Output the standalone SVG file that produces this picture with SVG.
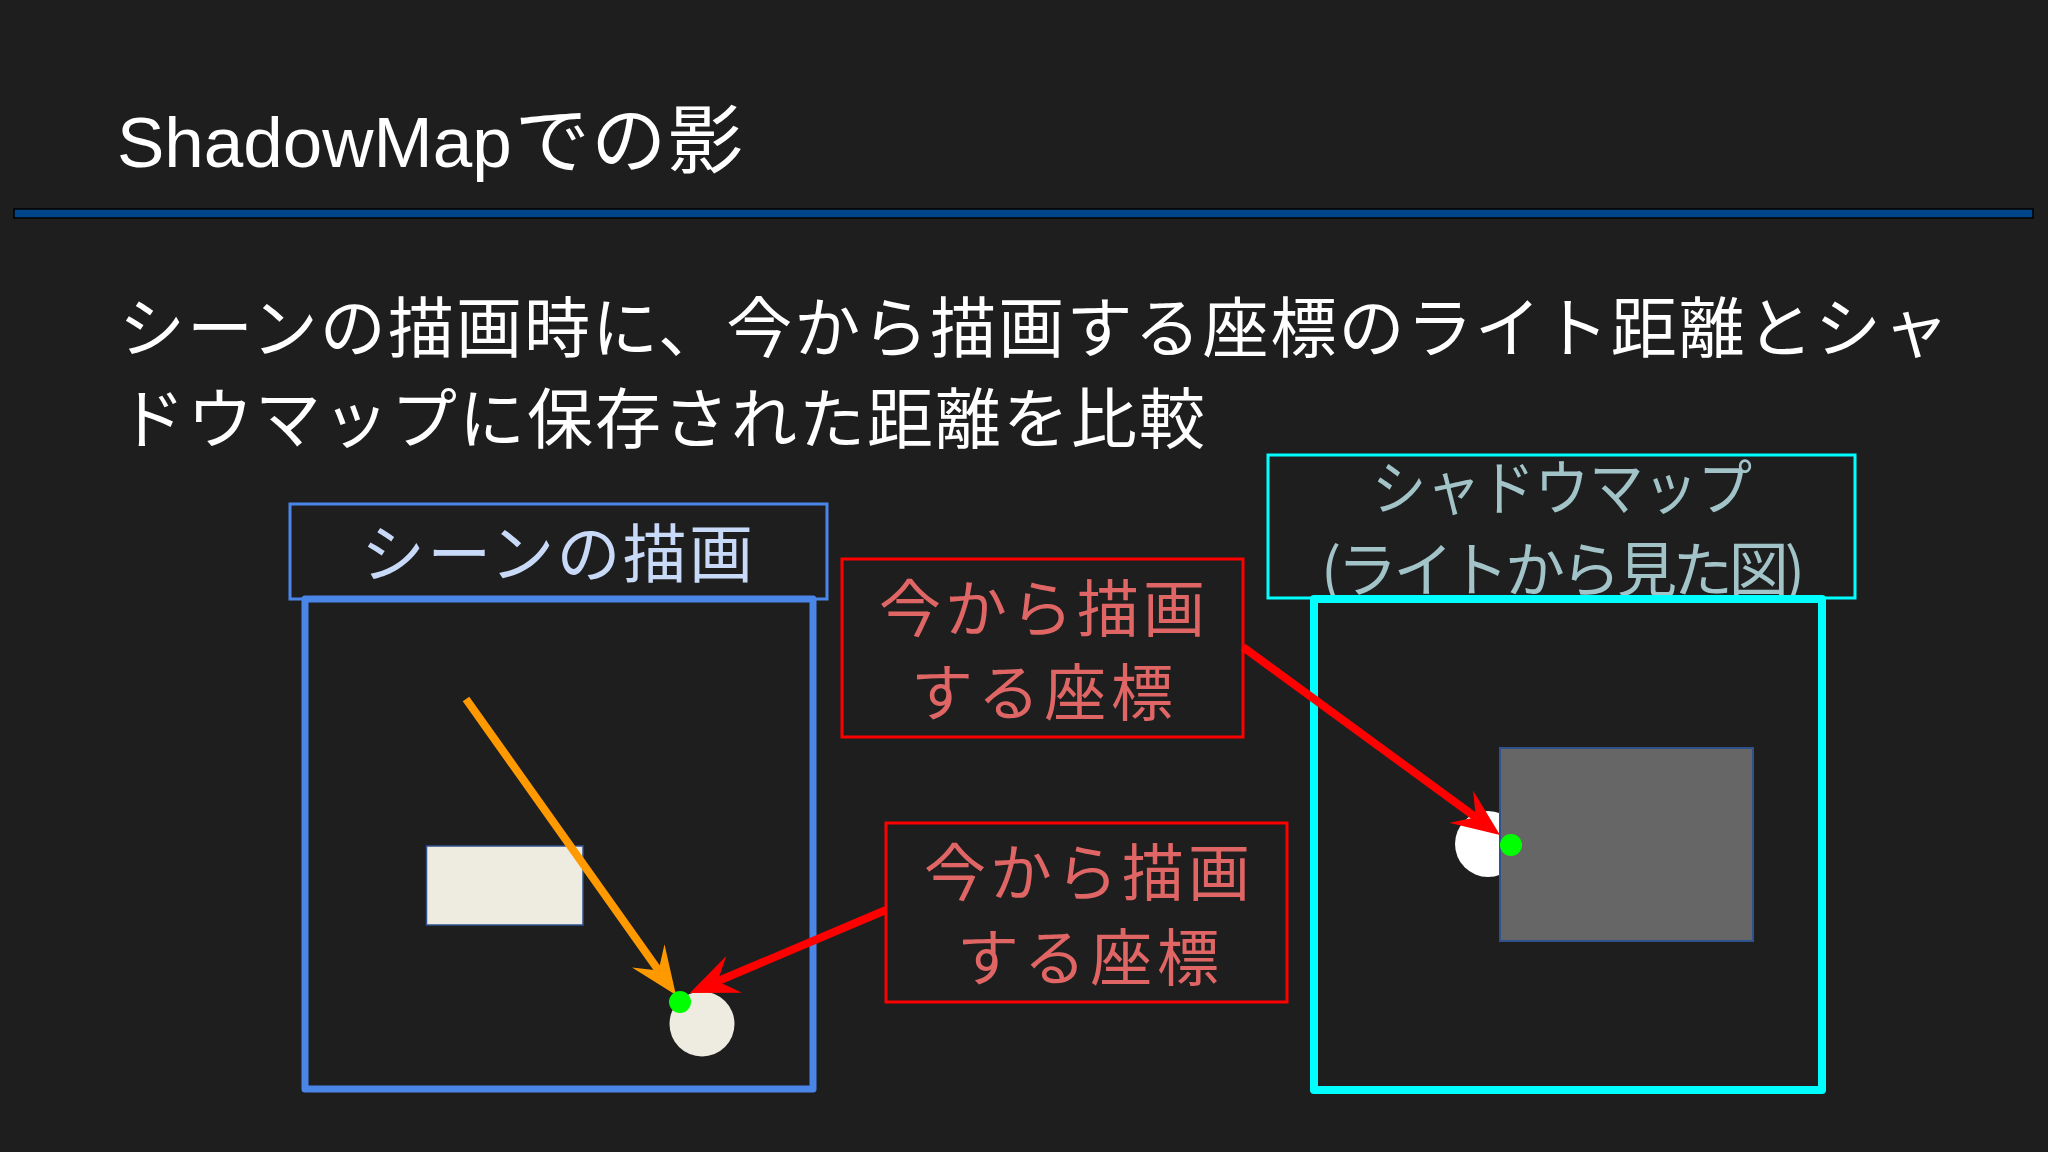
<svg xmlns="http://www.w3.org/2000/svg" width="2048" height="1152" viewBox="0 0 2048 1152">
<defs>
<style>
.jp{font-family:"Noto Sans CJK JP","Noto Sans",sans-serif;}
.title{font-family:"Liberation Sans","Noto Sans CJK JP",sans-serif;font-size:71px;fill:#ffffff;}
.body{font-size:66px;fill:#ffffff;}
.lbl{font-size:64px;text-anchor:middle;}
.sm-txt{fill:#a2c4c9;font-size:60px;}
.red-box{fill:none;stroke:#ff0000;stroke-width:3;}
.red-txt{fill:#e06666;font-size:62px;}
.conn{fill:none;stroke-width:8;}
</style>
<marker id="ah-orange" viewBox="0 0 48 40" refX="18" refY="20" markerWidth="48" markerHeight="40" markerUnits="userSpaceOnUse" orient="auto">
<path d="M0,0 L48,20 L0,40 L18,20 z" fill="#ff9900"/>
</marker>
<marker id="ah-red" viewBox="0 0 48 40" refX="18" refY="20" markerWidth="48" markerHeight="40" markerUnits="userSpaceOnUse" orient="auto">
<path d="M0,0 L48,20 L0,40 L18,20 z" fill="#ff0000"/>
</marker>
</defs>
<rect width="2048" height="1152" fill="#1e1e1e"/>

<g id="header">
<text class="title" x="117" y="167">ShadowMap<tspan font-size="75" dx="3" textLength="228" lengthAdjust="spacing">での影</tspan></text>
<rect x="14" y="209" width="2019" height="9" fill="#00458a" stroke="#000000" stroke-width="1.5"/>
</g>

<g id="description">
<text class="jp body"><tspan x="119" y="352" textLength="1830" lengthAdjust="spacing">シーンの描画時に、今から描画する座標のライト距離とシャ</tspan><tspan x="119" y="443" textLength="1086" lengthAdjust="spacing">ドウマップに保存された距離を比較</tspan></text>
</g>

<g id="scene-view">
<rect x="290" y="504" width="537" height="95" fill="#1e1e1e" stroke="#4a86e8" stroke-width="3"/>
<text class="jp lbl" x="557" y="577" fill="#c9daf8" textLength="392" lengthAdjust="spacing">シーンの描画</text>
<rect x="305" y="599" width="508" height="490" fill="#1e1e1e" stroke="#4a86e8" stroke-width="7" stroke-linejoin="round"/>
<rect x="426.5" y="846" width="156.5" height="79" fill="#eeece1" stroke="#2f528f" stroke-width="1.5"/>
<circle cx="702" cy="1024" r="32.5" fill="#eeece1"/>
</g>

<g id="shadowmap-view">
<rect x="1268" y="455" width="587" height="143" fill="#1e1e1e" stroke="#00ffff" stroke-width="3"/>
<text class="jp lbl sm-txt"><tspan x="1562" y="510" textLength="380" lengthAdjust="spacingAndGlyphs">シャドウマップ</tspan><tspan x="1563" y="592" textLength="484" lengthAdjust="spacing">(ライトから見た図)</tspan></text>
<rect x="1314" y="599" width="508" height="491" fill="#1e1e1e" stroke="#00ffff" stroke-width="8" stroke-linejoin="round"/>
<circle cx="1488" cy="844" r="33" fill="#ffffff"/>
<rect x="1500" y="748" width="253" height="193" fill="#666666" stroke="#2f528f" stroke-width="2"/>
</g>

<g id="label-upper">
<rect class="red-box" x="842" y="559" width="401" height="178"/>
<text class="jp lbl red-txt"><tspan x="1042" y="632" textLength="326" lengthAdjust="spacing">今から描画</tspan><tspan x="1042" y="716" textLength="262" lengthAdjust="spacing">する座標</tspan></text>
</g>

<g id="label-lower">
<rect class="red-box" x="886" y="823" width="401" height="179"/>
<text class="jp lbl red-txt"><tspan x="1087" y="896" textLength="326" lengthAdjust="spacing">今から描画</tspan><tspan x="1088" y="981" textLength="262" lengthAdjust="spacing">する座標</tspan></text>
</g>

<g id="connectors">
<line class="conn" x1="466" y1="699" x2="658.6" y2="970.5" stroke="#ff9900" marker-end="url(#ah-orange)"/>
<line class="conn" x1="886" y1="910" x2="717.6" y2="981.3" stroke="#ff0000" marker-end="url(#ah-red)"/>
<line class="conn" x1="1243" y1="647" x2="1475.8" y2="817.3" stroke="#ff0000" marker-end="url(#ah-red)"/>
</g>

<g id="point-scene">
<circle cx="680" cy="1002" r="11" fill="#00ff00"/>
</g>
<g id="point-shadowmap">
<circle cx="1511" cy="845" r="11" fill="#00ff00"/>
</g>
</svg>
